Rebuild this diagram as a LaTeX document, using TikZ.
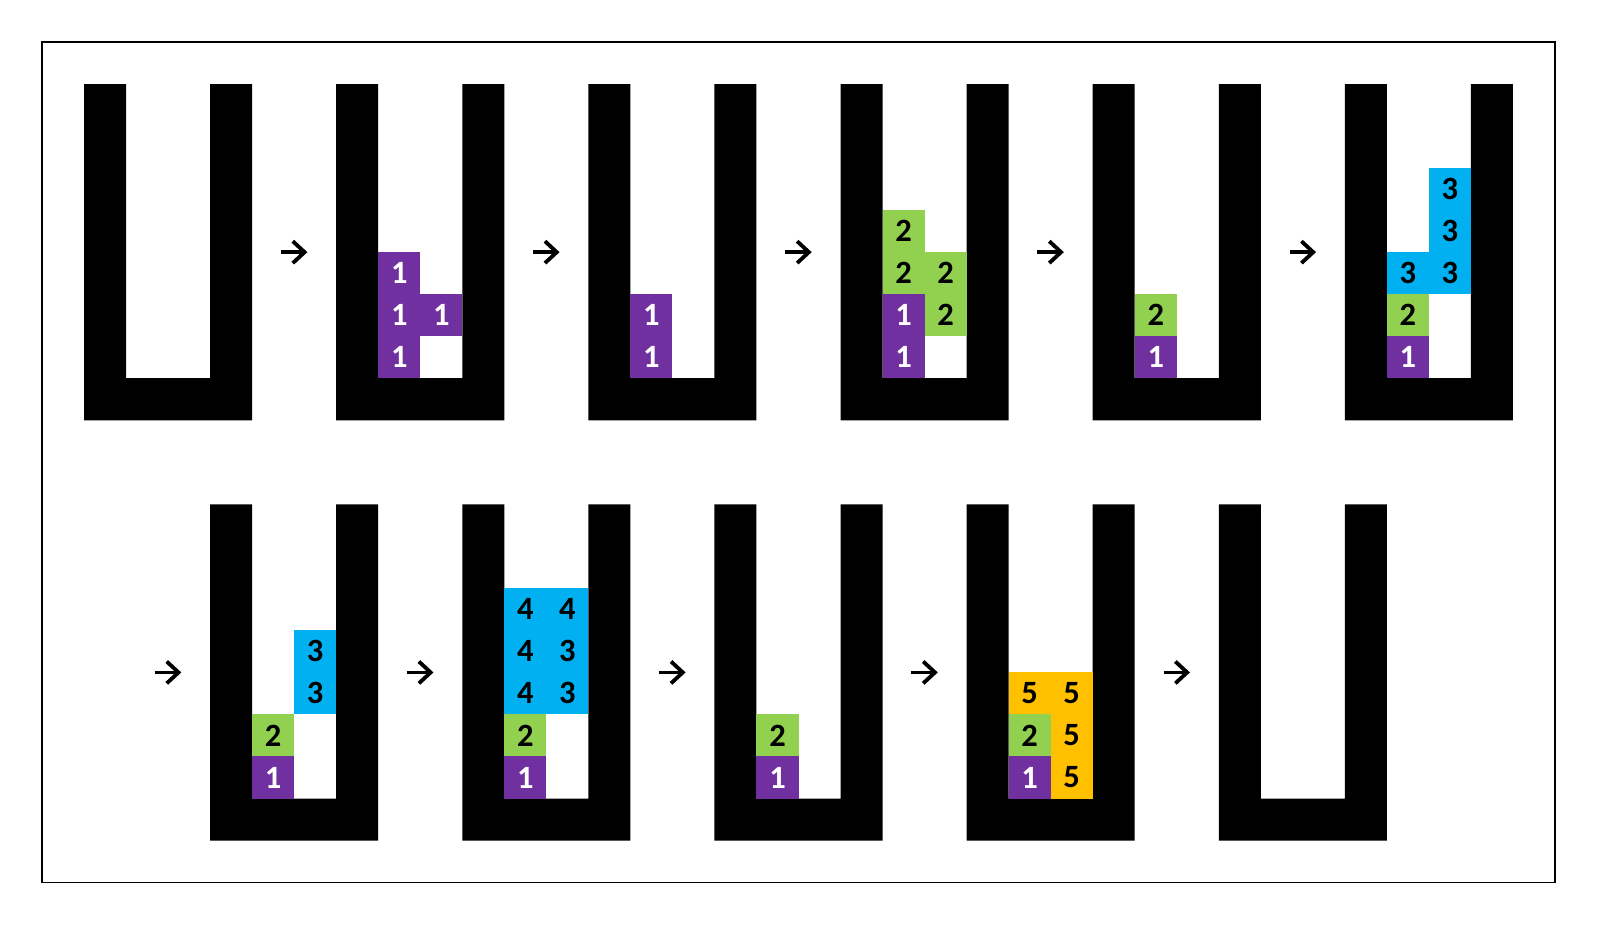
\documentclass[tikz,border=0pt]{standalone}
\usepackage{fontspec}
\setmainfont{Carlito}
\usetikzlibrary{arrows.meta}
\definecolor{tetPurple}{HTML}{7030A0}
\definecolor{tetGreen}{HTML}{92D050}
\definecolor{tetBlue}{HTML}{00B0F0}
\definecolor{tetOrange}{HTML}{FFC000}
\begin{document}
\begin{tikzpicture}[x=0.5cm, y=0.5cm,
            cell/.style={minimum size=0.5cm, inner sep=0pt, font=\fontsize{11}{12}\selectfont\bfseries},
            cellPurple/.style={cell, fill=tetPurple, text=white},
            cellGreen/.style={cell, fill=tetGreen},
            cellBlue/.style={cell, fill=tetBlue},
            cellOrange/.style={cell, fill=tetOrange},
            gap/.style={minimum width=0.3cm, minimum height=0.3cm, inner sep=0pt},
            next/.style={line width=1.3pt, -{Straight Barb[length=0.14cm, width=0.26cm]}},
            tube/.pic={\fill (0,0) -- (0,8) -- (1,8) -- (1,1) -- (3,1) -- (3,8) -- (4,8) -- (4,0) -- cycle;}]

            \useasboundingbox (0,0) rectangle (38,-22);
            \draw[line width=0.5pt] (1,-1) rectangle (37,-21);

            % top row
            \pic at (2,-10) {tube};
            \pic at (8,-10) {tube};
            \pic at (14,-10) {tube};
            \pic at (20,-10) {tube};
            \pic at (26,-10) {tube};
            \pic at (32,-10) {tube};

            % bottom row
            \pic at (5,-20) {tube};
            \pic at (11,-20) {tube};
            \pic at (17,-20) {tube};
            \pic at (23,-20) {tube};
            \pic at (29,-20) {tube};

            \node[cellPurple] (B1) at (9.5,-8.5) {1};
            \node[cellPurple] (B2) at (9.5,-7.5) {1};
            \node[cellPurple] (B3) at (9.5,-6.5) {1};
            \node[cellPurple] (B4) at (10.5,-7.5) {1};

            \node[cellPurple] (C1) at (15.5,-8.5) {1};
            \node[cellPurple] (C2) at (15.5,-7.5) {1};

            \node[cellPurple] (D1) at (21.5,-8.5) {1};
            \node[cellPurple] (D2) at (21.5,-7.5) {1};
            \node[cellGreen] (D3) at (21.5,-6.5) {2};
            \node[cellGreen] (D4) at (21.5,-5.5) {2};
            \node[cellGreen] (D5) at (22.5,-7.5) {2};
            \node[cellGreen] (D6) at (22.5,-6.5) {2};

            \node[cellPurple] (E1) at (27.5,-8.5) {1};
            \node[cellGreen] (E2) at (27.5,-7.5) {2};

            \node[cellPurple] (F1) at (33.5,-8.5) {1};
            \node[cellGreen] (F2) at (33.5,-7.5) {2};
            \node[cellBlue] (F3) at (33.5,-6.5) {3};
            \node[cellBlue] (F4) at (34.5,-6.5) {3};
            \node[cellBlue] (F5) at (34.5,-5.5) {3};
            \node[cellBlue] (F6) at (34.5,-4.5) {3};

            \node[cellPurple] (G1) at (6.5,-18.5) {1};
            \node[cellGreen] (G2) at (6.5,-17.5) {2};
            \node[cellBlue] (G3) at (7.5,-16.5) {3};
            \node[cellBlue] (G4) at (7.5,-15.5) {3};

            \node[cellPurple] (H1) at (12.5,-18.5) {1};
            \node[cellGreen] (H2) at (12.5,-17.5) {2};
            \node[cellBlue] (H3) at (12.5,-16.5) {4};
            \node[cellBlue] (H4) at (12.5,-15.5) {4};
            \node[cellBlue] (H5) at (12.5,-14.5) {4};
            \node[cellBlue] (H6) at (13.5,-16.5) {3};
            \node[cellBlue] (H7) at (13.5,-15.5) {3};
            \node[cellBlue] (H8) at (13.5,-14.5) {4};

            \node[cellPurple] (I1) at (18.5,-18.5) {1};
            \node[cellGreen] (I2) at (18.5,-17.5) {2};

            \node[cellPurple] (J1) at (24.5,-18.5) {1};
            \node[cellGreen] (J2) at (24.5,-17.5) {2};
            \node[cellOrange] (J3) at (24.5,-16.5) {5};
            \node[cellOrange] (J4) at (25.5,-18.5) {5};
            \node[cellOrange] (J5) at (25.5,-17.5) {5};
            \node[cellOrange] (J6) at (25.5,-16.5) {5};

            % steps
            \node[gap] (S1) at (7,-6) {};
            \node[gap] (S2) at (13,-6) {};
            \node[gap] (S3) at (19,-6) {};
            \node[gap] (S4) at (25,-6) {};
            \node[gap] (S5) at (31,-6) {};
            \node[gap] (S6) at (4,-16) {};
            \node[gap] (S7) at (10,-16) {};
            \node[gap] (S8) at (16,-16) {};
            \node[gap] (S9) at (22,-16) {};
            \node[gap] (S10) at (28,-16) {};

            \draw[next] (S1.west) -- (S1.east);
            \draw[next] (S2.west) -- (S2.east);
            \draw[next] (S3.west) -- (S3.east);
            \draw[next] (S4.west) -- (S4.east);
            \draw[next] (S5.west) -- (S5.east);
            \draw[next] (S6.west) -- (S6.east);
            \draw[next] (S7.west) -- (S7.east);
            \draw[next] (S8.west) -- (S8.east);
            \draw[next] (S9.west) -- (S9.east);
            \draw[next] (S10.west) -- (S10.east);

        \end{tikzpicture}
\end{document}
